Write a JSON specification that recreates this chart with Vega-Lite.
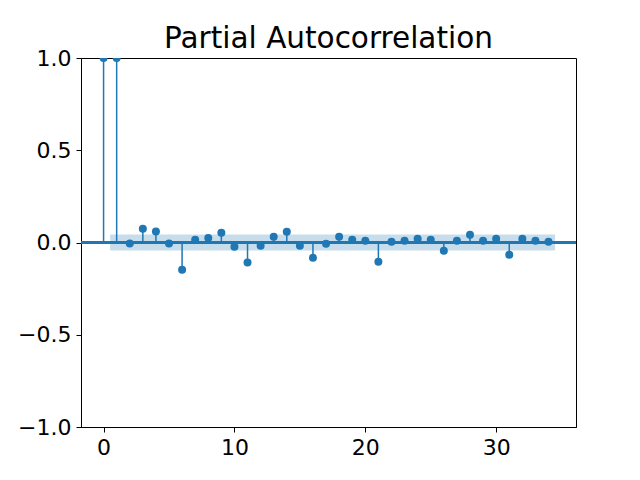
{
  "$schema": "https://vega.github.io/schema/vega-lite/v6.json",
  "autosize": "none",
  "width": 495,
  "height": 369,
  "padding": {"left": 81, "top": 58, "right": 64, "bottom": 53},
  "background": "white",
  "config": {
    "font": "DejaVu Sans",
    "view": {"stroke": "black", "strokeWidth": 1},
    "axis": {
      "grid": false,
      "domainColor": "black",
      "tickColor": "black",
      "labelColor": "black",
      "labelFont": "DejaVu Sans",
      "labelFontSize": 22,
      "tickSize": 5,
      "labelPadding": 5,
      "title": null
    }
  },
  "title": {
    "text": "Partial Autocorrelation",
    "fontSize": 29.5,
    "fontWeight": "normal",
    "font": "DejaVu Sans",
    "color": "black",
    "offset": 3,
    "dy": 10
  },
  "datasets": {
    "pacf": [
      {"lag": 0, "value": 1.0},
      {"lag": 1, "value": 1.0},
      {"lag": 2, "value": -0.005},
      {"lag": 3, "value": 0.074},
      {"lag": 4, "value": 0.06},
      {"lag": 5, "value": -0.005},
      {"lag": 6, "value": -0.148},
      {"lag": 7, "value": 0.015},
      {"lag": 8, "value": 0.025},
      {"lag": 9, "value": 0.053},
      {"lag": 10, "value": -0.023},
      {"lag": 11, "value": -0.109},
      {"lag": 12, "value": -0.018},
      {"lag": 13, "value": 0.031},
      {"lag": 14, "value": 0.058},
      {"lag": 15, "value": -0.018},
      {"lag": 16, "value": -0.083},
      {"lag": 17, "value": -0.007},
      {"lag": 18, "value": 0.031},
      {"lag": 19, "value": 0.015},
      {"lag": 20, "value": 0.009},
      {"lag": 21, "value": -0.105},
      {"lag": 22, "value": 0.004},
      {"lag": 23, "value": 0.009},
      {"lag": 24, "value": 0.02},
      {"lag": 25, "value": 0.015},
      {"lag": 26, "value": -0.045},
      {"lag": 27, "value": 0.009},
      {"lag": 28, "value": 0.042},
      {"lag": 29, "value": 0.009},
      {"lag": 30, "value": 0.02},
      {"lag": 31, "value": -0.067},
      {"lag": 32, "value": 0.02},
      {"lag": 33, "value": 0.009},
      {"lag": 34, "value": 0.004}
    ],
    "band": [
      {"start": 0.5, "end": 34.5, "lower": -0.043, "upper": 0.043}
    ]
  },
  "layer": [
    {
      "data": {"name": "band"},
      "mark": {"type": "rect", "color": "#1f77b4", "opacity": 0.25},
      "encoding": {
        "x": {"field": "start", "type": "quantitative", "scale": {"domain": [-1.725, 36.1], "nice": false, "zero": false},
              "axis": {"values": [0, 10, 20, 30], "format": "d"}},
        "x2": {"field": "end"},
        "y": {"field": "lower", "type": "quantitative", "scale": {"domain": [-1, 1], "nice": false},
              "axis": {"values": [-1, -0.5, 0, 0.5, 1], "format": ".1f"}},
        "y2": {"field": "upper"}
      }
    },
    {
      "data": {"name": "pacf"},
      "mark": {"type": "rule", "color": "#1f77b4", "strokeWidth": 1.5},
      "encoding": {
        "y": {"datum": 0, "type": "quantitative"}
      }
    },
    {
      "data": {"name": "pacf"},
      "mark": {"type": "rule", "color": "#1f77b4", "strokeWidth": 1.5},
      "encoding": {
        "x": {"field": "lag", "type": "quantitative"},
        "y": {"field": "value", "type": "quantitative"},
        "y2": {"datum": 0}
      }
    },
    {
      "data": {"name": "pacf"},
      "mark": {"type": "circle", "color": "#1f77b4", "opacity": 1, "size": 64, "clip": true},
      "encoding": {
        "x": {"field": "lag", "type": "quantitative"},
        "y": {"field": "value", "type": "quantitative"}
      }
    }
  ]
}
